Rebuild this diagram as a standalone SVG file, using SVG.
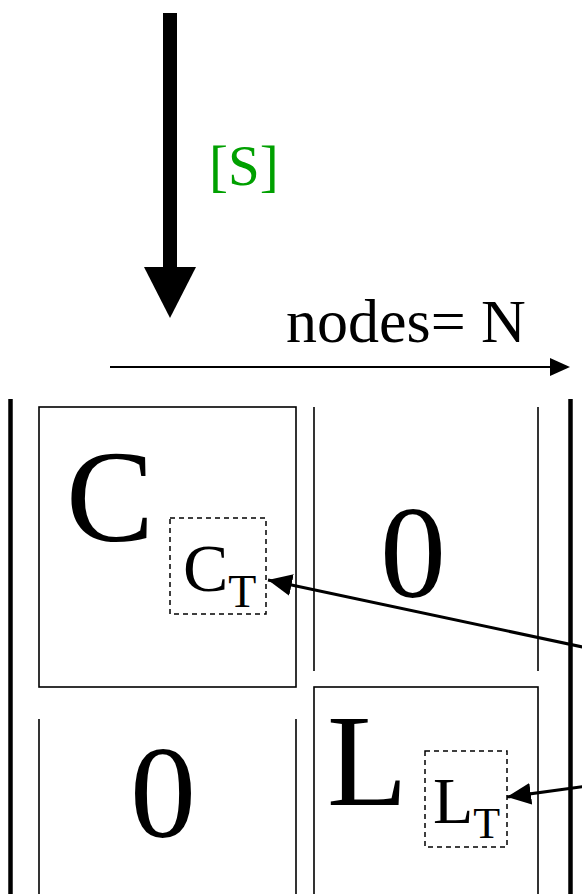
<svg xmlns="http://www.w3.org/2000/svg" width="582" height="894" viewBox="0 0 582 894">
<defs>
<style>
.t{font-family:"Liberation Serif","Times New Roman",serif;fill:#000}
.thin{stroke:#000;stroke-width:1.6;fill:none}
.br{stroke:#000;stroke-width:4.5;fill:none}
.dash{stroke:#000;stroke-width:1.5;fill:none;stroke-dasharray:5,4}
.conn{stroke:#000;stroke-width:3;fill:none}
</style>
<marker id="ah" markerUnits="userSpaceOnUse" markerWidth="28" markerHeight="24" refX="24" refY="11" orient="auto">
<path d="M0,0 L24,11 L0,22 z" fill="#000"/>
</marker>
</defs>
<rect width="582" height="894" fill="#fff"/>

<g id="input-arrow">
<rect x="163" y="13" width="14" height="256" fill="#000"/>
<polygon points="144,267 196,267 170,318" fill="#000"/>
<text class="t" x="209" y="185" font-size="57" style="fill:#00a000">[S]</text>
</g>

<g id="nodes-axis">
<line x1="110" y1="367" x2="554" y2="367" stroke="#000" stroke-width="2"/>
<polygon points="550,358 570,367 550,376" fill="#000"/>
<text class="t" x="286" y="342" font-size="62">nodes= N</text>
</g>

<g id="matrix-brackets">
<line class="br" x1="10.5" y1="399" x2="10.5" y2="894"/>
<line class="br" x1="570.5" y1="399" x2="570.5" y2="894"/>
</g>

<g id="block-C">
<rect class="thin" x="39" y="407" width="257" height="280"/>
<text class="t" x="66" y="541" font-size="132">C</text>
</g>

<g id="block-CT">
<rect class="dash" x="170" y="518" width="96" height="96"/>
<text class="t" x="183" y="591" font-size="68">C<tspan font-size="46" dy="16">T</tspan></text>
</g>

<g id="block-zero-top">
<line class="thin" x1="314" y1="407" x2="314" y2="671"/>
<line class="thin" x1="538" y1="407" x2="538" y2="671"/>
<text class="t" x="413" y="597" font-size="132" text-anchor="middle">0</text>
</g>

<g id="block-zero-bottom">
<line class="thin" x1="39" y1="719" x2="39" y2="894"/>
<line class="thin" x1="296" y1="719" x2="296" y2="894"/>
<text class="t" x="163" y="837" font-size="132" text-anchor="middle">0</text>
</g>

<g id="block-L">
<rect class="thin" x="314" y="687" width="224" height="220"/>
<text class="t" x="327" y="805" font-size="132">L</text>
</g>

<g id="block-LT">
<rect class="dash" x="425" y="751" width="82" height="96"/>
<text class="t" x="433" y="823" font-size="66">L<tspan font-size="44" dy="15">T</tspan></text>
</g>

<g id="connectors">
<line class="conn" x1="592" y1="649" x2="268" y2="580" marker-end="url(#ah)"/>
<line class="conn" x1="592" y1="785.5" x2="507" y2="797" marker-end="url(#ah)"/>
</g>
</svg>
